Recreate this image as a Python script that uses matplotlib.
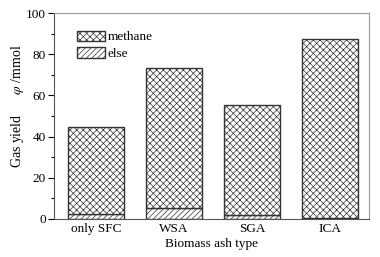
import matplotlib
matplotlib.use("Agg")
import matplotlib.pyplot as plt
import numpy as np

categories = ["only SFC", "WSA", "SGA", "ICA"]
else_vals = [2.5, 5.2, 2.0, 0.5]
total_vals = [44.6, 73.4, 55.2, 87.6]
methane_vals = [t - e for t, e in zip(total_vals, else_vals)]

plt.rcParams['font.family'] = ['Liberation Serif']
plt.rcParams['mathtext.fontset'] = 'stix'
plt.rcParams['hatch.color'] = '#999999'
plt.rcParams['hatch.linewidth'] = 0.5

fig = plt.figure(figsize=(3.8, 2.57), dpi=100)
ax = fig.add_axes([0.142, 0.148, 0.829, 0.801])

x = np.arange(len(categories))
w = 0.71
b1 = ax.bar(x, else_vals, w, facecolor='white', edgecolor='#333333', hatch='//////', linewidth=1.0, label='else')
b2 = ax.bar(x, methane_vals, w, bottom=else_vals, facecolor='white', edgecolor='#333333', hatch='xxxxx', linewidth=1.0, label='methane')

ax.set_xlim(-0.54, 3.5)
ax.set_ylim(0, 100)
ax.set_yticks([0, 20, 40, 60, 80, 100])
ax.set_yticks(np.arange(10, 100, 20), minor=True)
ax.set_xticks(x)
ax.set_xticklabels(categories)
ax.tick_params(axis='x', length=0, labelsize=9.5, pad=3)
ax.tick_params(axis='y', which='major', direction='out', length=4, labelsize=9.5, width=0.8, pad=2)
ax.tick_params(axis='y', which='minor', direction='out', length=2.5, width=0.8)
for s in ['top', 'right']:
    ax.spines[s].set_color('#999999')
for s in ['left', 'bottom']:
    ax.spines[s].set_color('#555555')

ax.set_xlabel("Biomass ash type", fontsize=9.5, labelpad=2)
ax.set_ylabel("Gas yield      $\\varphi$ /mmol", fontsize=10)
ax.yaxis.set_label_coords(-0.09, 0.55)

leg = ax.legend([b2, b1], ['methane', 'else'], loc='upper left', bbox_to_anchor=(0.073, 0.915),
                frameon=False, fontsize=9.5, handlelength=2.1, handleheight=0.85,
                handletextpad=0.2, labelspacing=0.3, borderaxespad=0, borderpad=0)

fig.savefig("out.png", dpi=100)
